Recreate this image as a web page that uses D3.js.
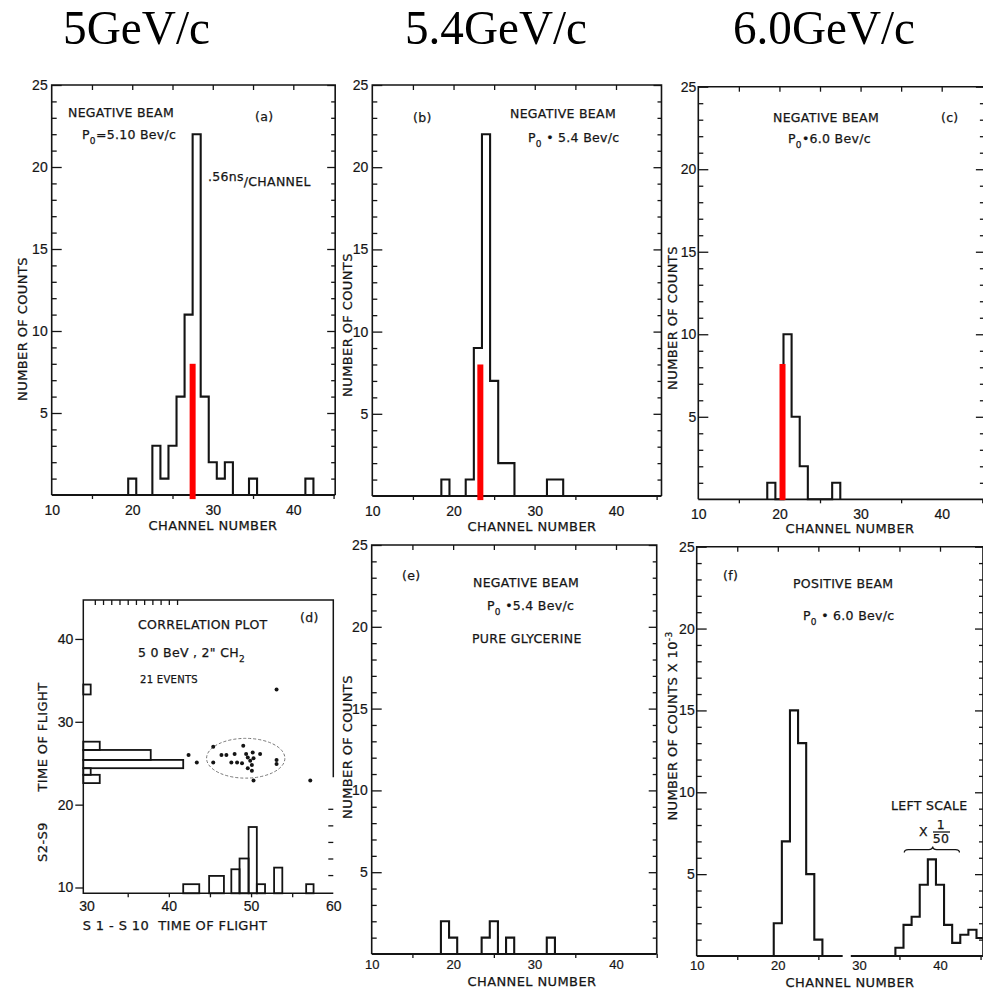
<!DOCTYPE html>
<html><head><meta charset="utf-8">
<script src="https://cdn.jsdelivr.net/npm/d3@7"></script>
<style>
body{margin:0;background:#fff;}
svg text{font-family:"DejaVu Sans",sans-serif;fill:#151515;}
.ann{font-size:12.5px;letter-spacing:0.3px;stroke:#151515;stroke-width:0.25px;}
.axt{font-size:13px;letter-spacing:0.4px;stroke:#151515;stroke-width:0.25px;}
.tick text{font-size:14px;font-family:"Liberation Sans",Arial,sans-serif;fill:#151515;stroke:#151515;stroke-width:0.2px;}
.title{font-family:"Liberation Serif","Times New Roman",serif;font-size:49px;fill:#000;}
</style></head><body>
<svg id="chart" width="983" height="990"></svg>
<script>
// ---------------- data ----------------
const titles = ["5GeV/c", "5.4GeV/c", "6.0GeV/c"];
const yTickLabels = [5, 10, 15, 20, 25];
const xTickLabels = [10, 20, 30, 40];

// (a) negative beam 5.10 BeV/c
const channelsA = [20, 23, 24, 25, 26, 27, 28, 29, 30, 31, 32, 35, 42];
const countsA   = [1, 3, 1, 3, 6, 11, 22, 6, 2, 1, 2, 1, 1];
// (b) negative beam 5.4 BeV/c
const channelsB = [19, 22, 23, 24, 25, 26, 27, 32, 33];
const countsB   = [1, 1, 9, 22, 7, 2, 2, 1, 1];
// (c) negative beam 6.0 BeV/c
const channelsC = [19, 21, 22, 23, 27];
const countsC   = [1, 10, 5, 2, 1];
// (e) pure glycerine 5.4 BeV/c
const channelsE = [19, 20, 24, 25, 27, 32];
const countsE   = [2, 1, 1, 2, 1, 1];
// (f) positive beam 6.0 BeV/c (x10^-3)
const channelsF1 = [20, 21, 22, 23, 24, 25];
const countsF1   = [2, 7, 15, 13, 5, 1];
const channelsF2 = [35, 36, 37, 38, 39, 40, 41, 42, 43, 44, 45];
const countsF2   = [0.5, 1.9, 2.4, 4.35, 5.9, 4.35, 1.9, 0.8, 1.3, 1.6, 1.1];

// red markers on (a),(b),(c)
const redChannels = [27.5, 23.3, 20.38];
const redTops     = [8, 8, 8.2];
const redBases    = [-0.25, -0.25, -0.05];

// (d) correlation plot
const dScatterX = [42.4, 43.4, 45.4, 45.4, 46.4, 47.0, 48.0, 49.05, 49.4, 47.6, 48.3, 48.9, 49.6, 49.9, 50.1, 49.6, 50.1, 50.2, 50.3, 51.1, 53.1, 53.1, 50.3, 53.1, 57.2];
const dScatterY = [26.0, 25.1, 27.0, 25.1, 26.0, 26.0, 26.1, 27.1, 26.1, 25.1, 25.1, 25.0, 25.7, 25.3, 24.8, 24.4, 24.1, 26.3, 25.6, 26.1, 25.4, 24.9, 22.9, 33.9, 22.9];
const dBottomX0  = [41.75, 44.9, 47.6, 48.6, 49.7, 50.7, 52.8, 56.7];
const dBottomX1  = [43.7, 46.7, 48.6, 49.7, 50.7, 51.7, 53.8, 57.6];
const dBottomTop = [10.4, 11.4, 12.2, 13.5, 17.3, 10.4, 12.4, 10.4];
const dLeftY0  = [33.3, 26.6, 25.4, 24.4, 23.6, 22.6];
const dLeftY1  = [34.5, 27.6, 26.6, 25.4, 24.4, 23.6];
const dLeftEnd = [30.5, 31.6, 37.8, 41.75, 30.5, 31.6];
const dXTicks = [30, 40, 50, 60];
const dYTicks = [10, 20, 30, 40];
const dTopTicks = [31, 32, 33, 34, 35, 36, 37, 38, 39, 40, 41];
const dRightTicks = [11.5, 13.5, 15.5, 17.5, 19.5];
const dEllipse = {cx: 49.35, cy: 25.6, rx: 4.76, ry: 2.4};

// ---------------- drawing ----------------
const svg = d3.select("#chart");
const ink = "#141414";

// titles
const titleX = [63, 405, 733], titleW = [147, 182, 182];
svg.selectAll("text.title").data(titles).join("text")
  .attr("class", "title")
  .attr("x", (d, i) => titleX[i]).attr("y", 44)
  .attr("textLength", (d, i) => titleW[i]).attr("lengthAdjust", "spacingAndGlyphs")
  .text(d => d);

function stepPoints(chs, cnts) {
  const m = new Map(chs.map((c, i) => [c, cnts[i]]));
  const lo = d3.min(chs), hi = d3.max(chs);
  const pts = [[lo - 0.5, 0]];
  for (let c = lo; c <= hi; c++) {
    const v = m.get(c) || 0;
    pts.push([c - 0.5, v], [c + 0.5, v]);
  }
  pts.push([hi + 0.5, 0]);
  return pts;
}

function addText(g, x, y, parts, cls) {
  const t = g.append("text").attr("x", x).attr("y", y).attr("class", cls || "ann");
  parts.forEach(p => {
    const s = t.append("tspan").text(p.t);
    if (p.sub) s.attr("baseline-shift", "sub").attr("font-size", "9px");
    if (p.sup) s.attr("baseline-shift", "super").attr("font-size", "9px");
    if (p.fs) s.attr("font-size", p.fs);
    if (p.dy) s.attr("dy", p.dy);
  });
  return t;
}

function histPanel(p) {
  const x = d3.scaleLinear().domain([10, 40]).range([p.px10, p.px40]);
  const y = d3.scaleLinear().domain([0, 25]).range([p.py0, p.py25]);
  const g = svg.append("g");
  const xR = x(p.xmax);

  const minor = d3.range(1, 26).filter(v => v % 5 !== 0);
  g.append("g").attr("transform", `translate(${x(10)},0)`)
    .call(d3.axisLeft(y).tickValues(minor).tickSize(-5).tickFormat(""))
    .call(a => a.select(".domain").remove());
  g.append("g").attr("transform", `translate(${x(10)},0)`)
    .call(d3.axisLeft(y).tickValues(yTickLabels).tickSize(-10).tickPadding(p.yPad || 4))
    .call(a => a.select(".domain").remove());
  g.append("g").attr("transform", `translate(${xR},0)`)
    .call(d3.axisRight(y).tickValues(minor).tickSize(-4).tickFormat(""))
    .call(a => a.select(".domain").remove());
  g.append("g").attr("transform", `translate(${xR},0)`)
    .call(d3.axisRight(y).tickValues(yTickLabels).tickSize(-8).tickFormat(""))
    .call(a => a.select(".domain").remove());
  g.append("g").attr("transform", `translate(0,${y(25)})`)
    .call(d3.axisTop(x).tickValues([15, 20, 25, 30, 35, 40]).tickSize(-5).tickFormat(""))
    .call(a => a.select(".domain").remove());
  g.append("g").attr("transform", `translate(0,${y(0)})`)
    .call(d3.axisBottom(x).tickValues([15, 25, 35, 45].filter(v => v <= p.xmax)).tickSize(4).tickFormat(""))
    .call(a => a.select(".domain").remove());
  g.append("g").attr("class", "xlab").attr("transform", `translate(0,${y(0)})`)
    .call(d3.axisBottom(x).tickValues(xTickLabels).tickSize(0).tickPadding(p.xPad || 10))
    .call(a => a.select(".domain").remove());
  if (p.xPad) g.selectAll(".xlab .tick text").style("font-size", "13px");
  g.selectAll(".tick line").attr("stroke", ink).attr("stroke-width", 1.3);

  g.append("path")
    .attr("d", `M${x(10)},${y(0)}V${y(25)}H${xR}V${y(0)}`)
    .attr("fill", "none").attr("stroke", ink).attr("stroke-width", 1.6);
  const segs = p.gaps || [[10, p.xmax]];
  segs.forEach(s => g.append("line")
    .attr("x1", x(s[0])).attr("x2", x(s[1])).attr("y1", y(0)).attr("y2", y(0))
    .attr("stroke", ink).attr("stroke-width", 1.8));

  const clipId = "clip" + p.id;
  svg.append("clipPath").attr("id", clipId).append("rect")
    .attr("x", x(10)).attr("y", y(25) - 2).attr("width", xR - x(10)).attr("height", y(0) - y(25) + 4);
  const line = d3.line().x(d => x(d[0])).y(d => y(d[1]));
  p.series.forEach(s => {
    g.append("path").attr("d", line(stepPoints(s[0], s[1])))
      .attr("clip-path", `url(#${clipId})`)
      .attr("fill", "none").attr("stroke", ink).attr("stroke-width", 2.1).attr("stroke-linejoin", "miter");
  });

  if (p.red != null) {
    const i = p.red;
    g.append("rect")
      .attr("x", x(redChannels[i]) - 3).attr("width", 6)
      .attr("y", y(redTops[i])).attr("height", y(redBases[i]) - y(redTops[i]))
      .attr("fill", "#ff0000");
  }

  g.append("text").attr("class", "axt")
    .attr("transform", `translate(${p.ylabX},${p.ylabY}) rotate(-90)`)
    .attr("text-anchor", "middle")
    .call(t => {
      t.append("tspan").text(p.ylab || "NUMBER OF COUNTS");
      if (p.ylabSup) t.append("tspan").attr("baseline-shift", "super").attr("font-size", "9px").text(p.ylabSup);
    });
  g.append("text").attr("class", "axt")
    .attr("x", p.xlabX).attr("y", p.xlabY).attr("text-anchor", "middle")
    .text("CHANNEL NUMBER");

  p.texts.forEach(tx => addText(g, tx.x, tx.y, tx.parts, tx.cls));
  return {g, x, y};
}

const P = (v) => [{t: "P"}, {t: "0", sub: true}, {t: v}];

histPanel({
  id: "a", px10: 51.7, px40: 293.3, py0: 495, py25: 85, xmax: 45.2,
  series: [[channelsA, countsA]], red: 0,
  ylabX: 27, ylabY: 329, xlabX: 213, xlabY: 530,
  texts: [
    {x: 68, y: 117, parts: [{t: "NEGATIVE BEAM"}]},
    {x: 82, y: 139, parts: P("=5.10 Bev/c")},
    {x: 255, y: 121, parts: [{t: "(a)"}]},
    {x: 208, y: 186, parts: [{t: ".56ns", dy: "-5"}, {t: "/CHANNEL", dy: "5"}]}
  ]
});
histPanel({
  id: "b", px10: 372.3, px40: 616, py0: 496, py25: 85, xmax: 45.6,
  series: [[channelsB, countsB]], red: 1,
  ylabX: 352, ylabY: 325, xlabX: 532, xlabY: 531,
  texts: [
    {x: 413, y: 122, parts: [{t: "(b)"}]},
    {x: 510, y: 118, parts: [{t: "NEGATIVE BEAM"}]},
    {x: 528, y: 142, parts: P(" • 5.4 Bev/c")}
  ]
});
histPanel({
  id: "c", px10: 698.3, px40: 941.7, py0: 499.3, py25: 86.7, xmax: 45.2,
  series: [[channelsC, countsC]], red: 2, yPad: 2,
  ylabX: 677, ylabY: 318, xlabX: 850, xlabY: 533,
  texts: [
    {x: 773, y: 122, parts: [{t: "NEGATIVE BEAM"}]},
    {x: 788, y: 143, parts: P("•6.0 Bev/c")},
    {x: 941, y: 122, parts: [{t: "(c)"}]}
  ]
});
histPanel({
  id: "e", px10: 371.7, px40: 616, py0: 954, py25: 545, xmax: 45, xPad: 6,
  series: [[channelsE, countsE]], red: null,
  ylabX: 352, ylabY: 747, xlabX: 532, xlabY: 986,
  texts: [
    {x: 402, y: 580, parts: [{t: "(e)"}]},
    {x: 473, y: 587, parts: [{t: "NEGATIVE BEAM"}]},
    {x: 487, y: 610, parts: P(" •5.4 Bev/c")},
    {x: 472, y: 643, parts: [{t: "PURE GLYCERINE"}]}
  ]
});
const pf = histPanel({
  id: "f", px10: 696.7, px40: 940, py0: 956, py25: 546.7, xmax: 45.3, xPad: 5,
  gaps: [[10, 28], [29, 45.3]],
  series: [[channelsF1, countsF1], [channelsF2, countsF2]], red: null, yPad: 2,
  ylabX: 677, ylabY: 726, ylab: "NUMBER OF COUNTS X 10", ylabSup: "-3", xlabX: 850, xlabY: 987,
  texts: [
    {x: 723, y: 580, parts: [{t: "(f)"}]},
    {x: 793, y: 588, parts: [{t: "POSITIVE BEAM"}]},
    {x: 803, y: 620, parts: P(" • 6.0 Bev/c")},
    {x: 891, y: 810, parts: [{t: "LEFT SCALE"}]},
    {x: 919, y: 836, parts: [{t: "X"}]}
  ]
});
{
  const {g, x, y} = pf;
  g.append("text").attr("class", "ann").attr("x", 941).attr("y", 829).attr("text-anchor", "middle").attr("font-size", "10px").text("1");
  g.append("line").attr("x1", 933).attr("x2", 950).attr("y1", 832).attr("y2", 832).attr("stroke", ink).attr("stroke-width", 1.3);
  g.append("text").attr("class", "ann").attr("x", 941).attr("y", 843).attr("text-anchor", "middle").attr("font-size", "10px").text("50");
  const bx0 = x(35.6), bx1 = x(42.4), bm = x(39.1), by = y(6.5);
  g.append("path")
    .attr("d", `M${bx0},${by + 3}Q${bx0},${by} ${bx0 + 4},${by}L${bm - 4},${by}Q${bm},${by} ${bm},${by - 3}Q${bm},${by} ${bm + 4},${by}L${bx1 - 4},${by}Q${bx1},${by} ${bx1},${by + 3}`)
    .attr("fill", "none").attr("stroke", ink).attr("stroke-width", 1.3);
}

// ---------------- (d) correlation plot ----------------
{
  const x = d3.scaleLinear().domain([29.6, 60]).range([83.3, 333.3]);
  const y = d3.scaleLinear().domain([9.3, 44.7]).range([893.3, 600]);
  const g = svg.append("g");
  g.append("g").attr("transform", `translate(${x(29.6)},0)`)
    .call(d3.axisLeft(y).tickValues(dYTicks).tickSize(8).tickPadding(2))
    .call(a => a.select(".domain").remove());
  g.append("g").attr("transform", `translate(0,${y(9.3)})`)
    .call(d3.axisBottom(x).tickValues(dXTicks).tickSize(0).tickPadding(8))
    .call(a => a.select(".domain").remove());
  g.append("g").attr("transform", `translate(0,${y(9.3)})`)
    .call(d3.axisBottom(x).tickValues([35, 40, 45, 50, 55]).tickSize(4).tickFormat(""))
    .call(a => a.select(".domain").remove());
  g.append("g").attr("transform", `translate(0,${y(44.7)})`)
    .call(d3.axisTop(x).tickValues(dTopTicks).tickSize(-5).tickFormat(""))
    .call(a => a.select(".domain").remove());
  g.append("g").attr("transform", `translate(${x(60)},0)`)
    .call(d3.axisRight(y).tickValues(dRightTicks).tickSize(-5).tickFormat(""))
    .call(a => a.select(".domain").remove());
  g.selectAll(".tick line").attr("stroke", ink).attr("stroke-width", 1.3);
  g.append("path")
    .attr("d", `M${x(60)},${y(23.3)}V${y(44.7)}H${x(29.6)}V${y(9.3)}H${x(60)}`)
    .attr("fill", "none").attr("stroke", ink).attr("stroke-width", 1.5);
  g.selectAll("rect.bh").data(dBottomTop).join("rect").attr("class", "bh")
    .attr("x", (d, i) => x(dBottomX0[i])).attr("width", (d, i) => x(dBottomX1[i]) - x(dBottomX0[i]))
    .attr("y", d => y(d)).attr("height", d => y(9.3) - y(d))
    .attr("fill", "none").attr("stroke", ink).attr("stroke-width", 1.8);
  g.selectAll("rect.lh").data(dLeftEnd).join("rect").attr("class", "lh")
    .attr("x", x(29.6)).attr("width", d => x(d) - x(29.6))
    .attr("y", (d, i) => y(dLeftY1[i])).attr("height", (d, i) => y(dLeftY0[i]) - y(dLeftY1[i]))
    .attr("fill", "none").attr("stroke", ink).attr("stroke-width", 1.8);
  g.append("ellipse")
    .attr("cx", x(dEllipse.cx)).attr("cy", y(dEllipse.cy))
    .attr("rx", x(dEllipse.cx + dEllipse.rx) - x(dEllipse.cx))
    .attr("ry", y(dEllipse.cy) - y(dEllipse.cy + dEllipse.ry))
    .attr("fill", "none").attr("stroke", "#777").attr("stroke-width", 1).attr("stroke-dasharray", "3,2");
  g.selectAll("circle.pt").data(dScatterX).join("circle").attr("class", "pt")
    .attr("cx", d => x(d)).attr("cy", (d, i) => y(dScatterY[i])).attr("r", 2).attr("fill", ink);
  addText(g, 138, 629, [{t: "CORRELATION PLOT"}]);
  addText(g, 300, 622, [{t: "(d)"}]);
  addText(g, 138, 657, [{t: "5 0 BeV , 2\" CH"}, {t: "2", sub: true}]);
  addText(g, 140, 683, [{t: "21 EVENTS", fs: "10px"}]);
  g.append("text").attr("class", "axt").attr("x", 175).attr("y", 930).attr("text-anchor", "middle")
    .attr("xml:space", "preserve").text("S 1 - S 10  TIME OF FLIGHT");
  g.append("text").attr("class", "axt").attr("transform", "translate(47,737) rotate(-90)").attr("text-anchor", "middle").text("TIME OF FLIGHT");
  g.append("text").attr("class", "axt").attr("transform", "translate(47,842) rotate(-90)").attr("text-anchor", "middle").text("S2-S9");
}
</script></body></html>
